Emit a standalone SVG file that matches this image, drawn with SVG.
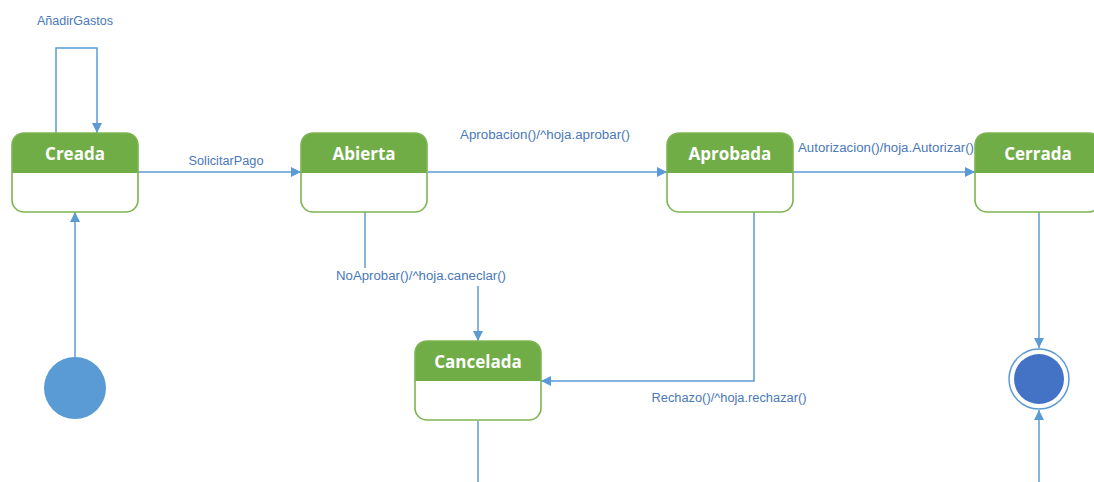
<svg xmlns="http://www.w3.org/2000/svg" width="1094" height="482" viewBox="0 0 1094 482">
<style>
.hdr{fill:#70AD47}
.box{fill:none;stroke:#7DB552;stroke-width:1.6}
.title{font-family:"Open Sans","Liberation Sans",sans-serif;font-weight:bold;font-size:17px;fill:#fff;text-anchor:middle}
.conn{fill:none;stroke:#5B9BD5;stroke-width:1.5}
.lbl{font-family:"Liberation Sans",Arial,sans-serif;font-size:12.5px;fill:#4A78B8;text-anchor:middle}
</style>
<defs>
<marker id="arr" viewBox="0 0 10 10" refX="10" refY="5" markerWidth="10" markerHeight="10" markerUnits="userSpaceOnUse" orient="auto">
<path d="M0,0 L10,5 L0,10 Z" fill="#5B9BD5"/>
</marker>
<g id="state">
<path class="hdr" d="M0,40 V12 Q0,0 12,0 H114 Q126,0 126,12 V40 Z"/>
<rect class="box" x="0" y="0" width="126" height="79" rx="12"/>
</g>
</defs>
<rect width="1094" height="482" fill="#fff"/>
<g id="connectors">
<path class="conn" d="M56,133 V48 H97 V133" marker-end="url(#arr)"/>
<path class="conn" d="M75,358 V212" marker-end="url(#arr)"/>
<path class="conn" d="M138,172 H301" marker-end="url(#arr)"/>
<path class="conn" d="M428,172 H667" marker-end="url(#arr)"/>
<path class="conn" d="M793,172 H975" marker-end="url(#arr)"/>
<path class="conn" d="M365,212 V268"/>
<path class="conn" d="M478,286 V341" marker-end="url(#arr)"/>
<path class="conn" d="M754,212 V381 H541" marker-end="url(#arr)"/>
<path class="conn" d="M1039,212 V348" marker-end="url(#arr)"/>
<path class="conn" d="M1039,482 V410" marker-end="url(#arr)"/>
<path class="conn" d="M478,421 V482"/>
<text class="lbl" x="75" y="25" textLength="76" lengthAdjust="spacingAndGlyphs">AñadirGastos</text>
<text class="lbl" x="226" y="165" textLength="75" lengthAdjust="spacingAndGlyphs">SolicitarPago</text>
<text class="lbl" x="545" y="139" textLength="170" lengthAdjust="spacingAndGlyphs">Aprobacion()/^hoja.aprobar()</text>
<text class="lbl" x="886" y="152" textLength="176" lengthAdjust="spacingAndGlyphs">Autorizacion()/hoja.Autorizar()</text>
<text class="lbl" x="421" y="280" textLength="170" lengthAdjust="spacingAndGlyphs">NoAprobar()/^hoja.caneclar()</text>
<text class="lbl" x="729" y="402" textLength="155" lengthAdjust="spacingAndGlyphs">Rechazo()/^hoja.rechazar()</text>
</g>
<g id="initial"><circle cx="75" cy="388" r="31" fill="#5B9BD5"/></g>
<g id="final">
<circle cx="1039" cy="379" r="30" fill="#fff" stroke="#5B9BD5" stroke-width="1.5"/>
<circle cx="1039" cy="379" r="25" fill="#4472C4"/>
</g>
<g id="creada"><use href="#state" x="12" y="133"/><text class="title" x="75" y="160">Creada</text></g>
<g id="abierta"><use href="#state" x="301" y="133"/><text class="title" x="364" y="160">Abierta</text></g>
<g id="aprobada"><use href="#state" x="667" y="133"/><text class="title" x="730" y="160">Aprobada</text></g>
<g id="cerrada"><use href="#state" x="975" y="133"/><text class="title" x="1038" y="160">Cerrada</text></g>
<g id="cancelada"><use href="#state" x="415" y="341"/><text class="title" x="478" y="368">Cancelada</text></g>
</svg>
